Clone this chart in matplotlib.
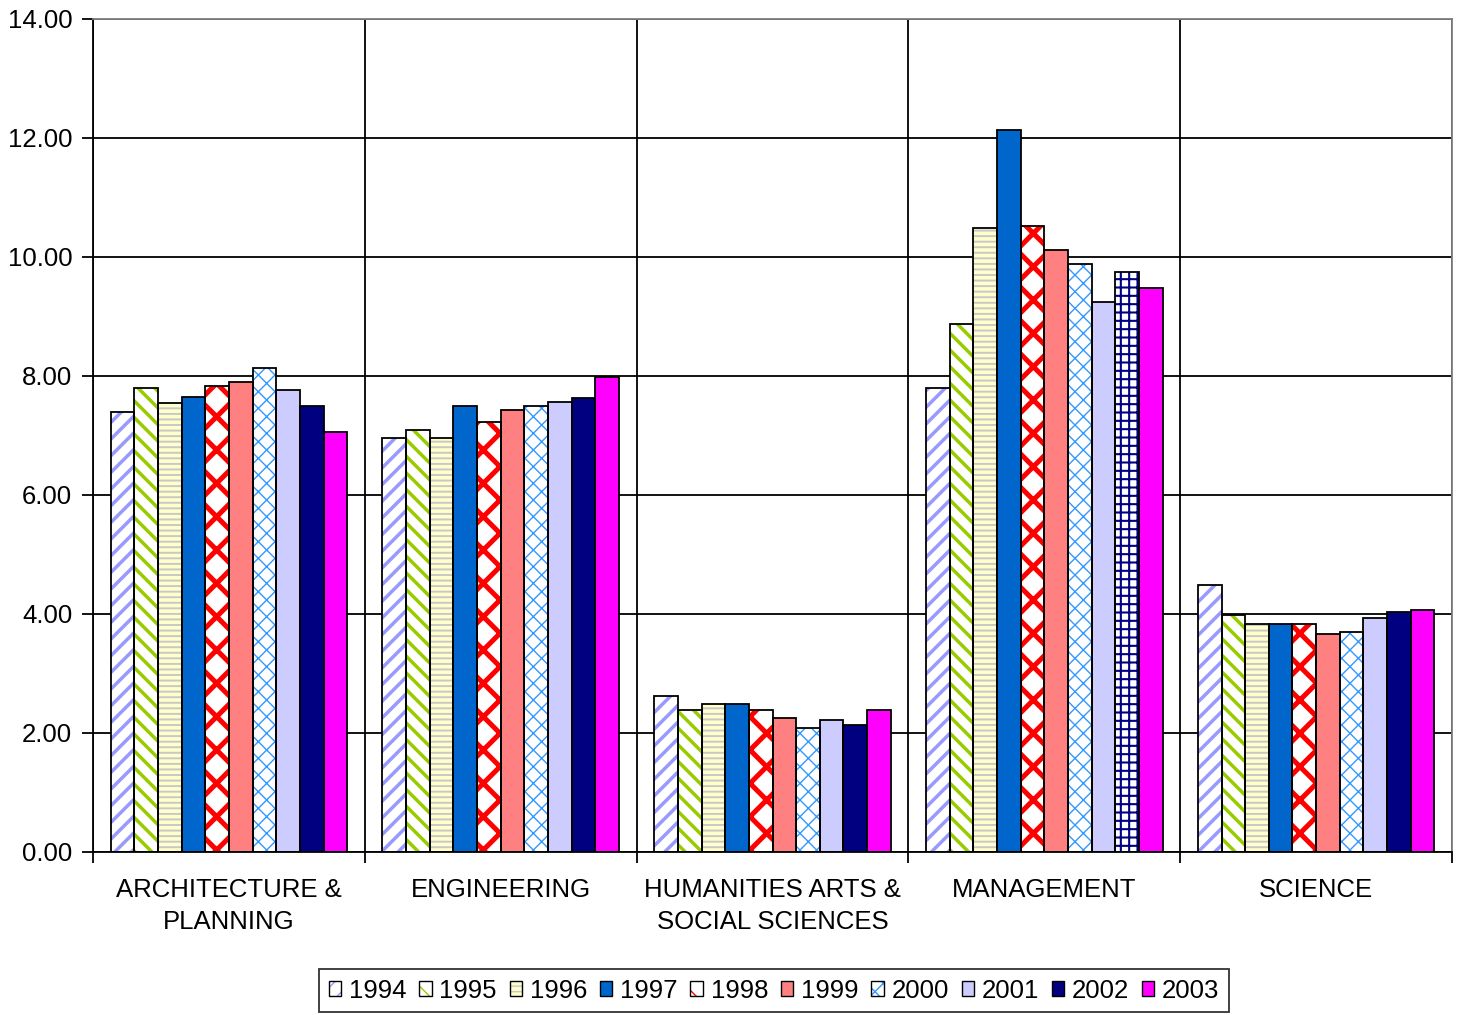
import numpy as np
import matplotlib
matplotlib.use("Agg")
import matplotlib.pyplot as plt
from matplotlib.patches import Patch

plt.rcParams["font.family"] = ["Liberation Sans", "DejaVu Sans"]

# Data
categories = ["ARCHITECTURE &\nPLANNING", "ENGINEERING", "HUMANITIES ARTS &\nSOCIAL SCIENCES",
              "MANAGEMENT", "SCIENCE"]
years = ["1994", "1995", "1996", "1997", "1998", "1999", "2000", "2001", "2002", "2003"]

arch  = [7.40, 7.80, 7.54, 7.64, 7.84, 7.90, 8.13, 7.76, 7.50, 7.06]
eng   = [6.96, 7.10, 6.96, 7.50, 7.23, 7.43, 7.50, 7.56, 7.63, 7.98]
hum   = [2.63, 2.38, 2.49, 2.49, 2.38, 2.25, 2.09, 2.22, 2.13, 2.38]
mgmt  = [7.80, 8.87, 10.49, 12.13, 10.52, 10.12, 9.88, 9.25, 9.75, 9.48]
sci   = [4.48, 3.99, 3.84, 3.84, 3.84, 3.66, 3.70, 3.93, 4.04, 4.07]

values = np.array([arch, eng, hum, mgmt, sci])   # rows = categories, cols = years

#Styles per year: (face, hatch, hatch colour, hatch linewidth)
styles = [
    ("white",   "//",  "#9999FF", 2.5),
    ("white",   "\\\\", "#99CC00", 2.5),
    ("#FFFFCC", "---", "#C8C8C8", 1.4),
    ("#0066CC", None,  "#0066CC", 1.0),
    ("white",   "x",   "#FF0000", 3.6),
    ("#FF8080", None,  "#FF8080", 1.0),
    ("white",   "xx",  "#3399FF", 1.0),
    ("#CCCCFF", None,  "#CCCCFF", 1.0),
    ("#000080", None,  "#000080", 1.0),
    ("#FF00FF", None,  "#FF00FF", 1.0),
]

FS = 18.5

fig = plt.figure(figsize=(14.58, 10.15), dpi=100)
ax = fig.add_axes([0.0638, 0.1606, 0.9321, 0.8207])

x = np.arange(len(categories))
w = 0.087
for i, (face, hatch, hcol, hlw) in enumerate(styles):
    pos = x + (i - 4.5) * w
    with plt.rc_context({"hatch.linewidth": hlw}):
        bars = ax.bar(pos, values[:, i], w, color=face, hatch=hatch, edgecolor=hcol,
                      linewidth=0, zorder=2)
    # 2002 in management is drawn with a grid pattern
    if years[i] == "2002":
        with plt.rc_context({"hatch.linewidth": 1.5}):
            ax.bar(pos[3], values[3, i], w, color="white", hatch="++", edgecolor="#000080",
                   linewidth=0, zorder=2.5)
    ax.bar(pos, values[:, i], w, fill=False, edgecolor="black", linewidth=1.3, zorder=3)

ax.set_xlim(-0.5, 4.5)
ax.set_ylim(0, 14)
ax.set_yticks(np.arange(0, 15, 2))
ax.set_yticklabels([f"{v:.2f}" for v in np.arange(0, 15, 2)])
ax.set_xticks(x)
ax.set_xticklabels(categories, linespacing=1.4)
ax.set_xticks(np.arange(-0.5, 5, 1), minor=True)

ax.tick_params(axis="y", length=8, width=1.3, pad=7, labelsize=FS, colors="black")
ax.tick_params(axis="x", which="major", length=0, pad=19, labelsize=FS)
ax.tick_params(axis="x", which="minor", length=8, width=1.3)

ax.grid(axis="y", which="major", color="black", linewidth=1.3, zorder=1)
ax.grid(axis="x", which="minor", color="black", linewidth=1.3, zorder=1)
ax.set_axisbelow(True)

for s in ["left", "bottom"]:
    ax.spines[s].set_linewidth(1.3)
    ax.spines[s].set_color("black")
for s in ["top", "right"]:
    ax.spines[s].set_linewidth(1.3)
    ax.spines[s].set_color("#808080")

#Legend
handles = []
for face, hatch, hcol, hlw in styles:
    with plt.rc_context({"hatch.linewidth": min(hlw, 1.5)}):
        p1 = Patch(facecolor=face, hatch=hatch, edgecolor=hcol, linewidth=0)
    p2 = Patch(fill=False, edgecolor="black", linewidth=1.0)
    handles.append((p1, p2))

leg = fig.legend(handles, years, loc="lower center", bbox_to_anchor=(0.531, -0.01), ncol=10,
                 fontsize=FS, handlelength=0.48, handleheight=0.48, handletextpad=0.3,
                 columnspacing=0.5, borderpad=0.38, frameon=True, fancybox=False)
leg.get_frame().set_edgecolor("black")
leg.get_frame().set_linewidth(1.3)

fig.savefig("out.png", dpi=100)
